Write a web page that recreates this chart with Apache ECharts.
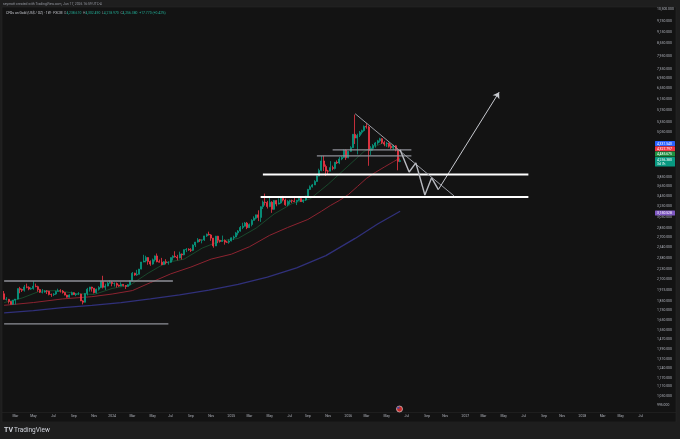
<!DOCTYPE html>
<html><head><meta charset="utf-8">
<script src="https://cdn.jsdelivr.net/npm/echarts@6/dist/echarts.min.js"></script>
<style>html,body{margin:0;padding:0;background:#1e1e1e;}#c{width:680px;height:439px;}</style>
</head><body><div id="c"></div>
<script>
// weekly bars starting Monday 2023-01-30, axis runs to mid-2028
const firstWeek = Date.UTC(2023, 0, 30);
const weekCount = 286;
const weeks = [];
for (let i = 0; i < weekCount; i++) weeks.push(new Date(firstWeek + i * 7 * 864e5).toISOString().slice(0, 10));

const openP = [1928,1865,1865,1842,1811,1856,1868,1988,1978,1969,
2008,2004,1983,1990,2017,2011,1977,1946,1948,1961,
1958,1921,1919,1925,1955,1962,1959,1943,1913,1889,
1915,1940,1919,1924,1925,1848,1833,1932,1981,2006,
1993,1940,1981,2002,2072,2004,2019,2053,2063,2049,
2049,2029,2018,2039,2024,2013,2035,2083,2179,2156,
2165,2233,2329,2344,2392,2337,2301,2360,2415,2334,
2327,2293,2333,2321,2326,2391,2411,2400,2387,2443,
2431,2507,2512,2503,2497,2577,2622,2658,2653,2656,
2721,2747,2736,2685,2563,2716,2650,2633,2648,2622,
2621,2640,2690,2702,2770,2800,2861,2882,2936,2858,
2910,2984,3023,3084,3037,3237,3327,3319,3240,3325,
3187,3357,3289,3310,3432,3368,3274,3337,3355,3350,
3337,3363,3398,3336,3371,3448,3587,3643,3685,3760,
3886,4018,4250,4113,4002,4000,4085,4065,4218,4200,
4300,4340,4530,4330,4500,4600,4980,4870,4950,5040,
5090,5220,5200,4520,4580,4660,4730,4790,4850,4740,
4700,4720,4640,4600,4650,4540,4238.61];
const highP = [1960,1890,1870,1846,1858,1868,1989,2009,1988,2032,
2048,2015,2003,2079,2048,2022,1985,1983,1971,1970,
1962,1930,1935,1963,1987,1982,1972,1948,1916,1922,
1953,1945,1933,1947,1928,1856,1935,1997,2009,2010,
1994,1988,2017,2075,2146,2047,2070,2088,2078,2062,
2062,2036,2065,2043,2031,2041,2088,2195,2185,2223,
2236,2330,2431,2418,2395,2352,2378,2422,2450,2364,
2387,2342,2368,2339,2393,2424,2483,2431,2477,2450,
2509,2531,2528,2529,2586,2625,2685,2672,2665,2722,
2758,2790,2750,2688,2721,2721,2658,2726,2664,2638,
2665,2697,2725,2786,2817,2886,2942,2955,2956,2930,
3005,3057,3086,3168,3245,3358,3500,3352,3435,3345,
3366,3365,3403,3446,3452,3398,3365,3375,3377,3439,
3370,3409,3404,3378,3453,3600,3674,3707,3791,3897,
4059,4380,4381,4160,4031,4245,4133,4225,4265,4353,
4375,4550,4550,4510,4640,4990,5600,5000,5080,5120,
5250,5330,5230,4640,4700,4760,4820,4880,4870,4790,
4760,4740,4700,4680,4670,4580,4302.49];
const lowP = [1861,1852,1819,1809,1804,1809,1864,1934,1949,1953,
1992,1969,1974,1976,2005,1952,1937,1932,1940,1925,
1910,1893,1902,1916,1952,1942,1930,1910,1885,1884,
1913,1915,1901,1913,1846,1810,1832,1909,1953,1953,
1932,1931,1965,1993,1990,1973,2016,2052,2016,2013,
2001,2010,2016,2015,1984,2009,2024,2077,2146,2146,
2164,2229,2326,2324,2291,2277,2292,2336,2325,2323,
2286,2290,2296,2293,2318,2350,2394,2353,2381,2364,
2425,2470,2490,2472,2485,2546,2614,2624,2603,2640,
2704,2728,2643,2536,2562,2605,2614,2627,2583,2611,
2597,2633,2656,2700,2730,2790,2833,2878,2832,2857,
2880,2982,3000,2971,2957,3193,3260,3202,3228,3121,
3180,3245,3280,3293,3340,3255,3247,3283,3310,3324,
3268,3348,3331,3311,3351,3436,3586,3628,3684,3758,
3884,3996,4004,3886,3931,3997,4021,4040,4175,4170,
4270,4330,4275,4320,4490,4590,4700,4420,4900,4980,
5060,5150,4130,4400,4520,4600,4680,4740,4700,4640,
4620,4600,4560,4540,4500,4020,4218.97];
const closeP = [1865,1865,1842,1811,1856,1868,1988,1978,1969,2008,
2004,1983,1990,2017,2011,1977,1946,1948,1961,1958,
1921,1919,1925,1955,1962,1959,1943,1913,1889,1915,
1940,1919,1924,1925,1848,1833,1932,1981,2006,1993,
1940,1981,2002,2072,2004,2019,2053,2063,2049,2049,
2029,2018,2039,2024,2013,2035,2083,2179,2156,2165,
2233,2329,2344,2392,2337,2301,2360,2415,2334,2327,
2293,2333,2321,2326,2391,2411,2400,2387,2443,2431,
2507,2512,2503,2497,2577,2622,2658,2653,2656,2721,
2747,2736,2685,2563,2716,2650,2633,2648,2622,2621,
2640,2690,2702,2770,2800,2861,2882,2936,2858,2910,
2984,3023,3084,3037,3237,3327,3319,3240,3325,3187,
3357,3289,3310,3432,3368,3274,3337,3355,3350,3337,
3363,3398,3336,3371,3448,3587,3643,3685,3760,3886,
4018,4250,4113,4002,4000,4085,4065,4218,4200,4300,
4340,4530,4330,4500,4600,4980,4870,4950,5040,5090,
5220,5200,4520,4580,4660,4730,4790,4850,4740,4700,
4720,4640,4600,4650,4540,4238.61,4256.38];

// indicator lines: [week index, price]
const ema50 = [[0,1800],[13,1830],[26,1870],[39,1895],[48,1925],[57,1965],[65,2060],[74,2170],[83,2260],[92,2370],[101,2440],[109,2550],[118,2730],[126,2860],[135,3000],[141,3150],[145,3260],[149,3360],[153,3480],[157,3650],[161,3830],[165,3970],[169,4100],[173,4230],[176,4327.8]];
const ma20 = [[0,1830],[8,1880],[16,1960],[24,1965],[32,1930],[40,1920],[48,1990],[56,2030],[64,2180],[72,2320],[80,2370],[88,2530],[96,2640],[104,2680],[112,2850],[120,3100],[128,3300],[136,3390],[144,3700],[152,4080],[160,4500],[168,4720],[176,4485.7]];
const sma200 = [[0,1720],[13,1745],[26,1775],[39,1800],[52,1830],[65,1870],[78,1915],[91,1970],[104,2040],[117,2130],[130,2250],[143,2420],[156,2680],[166,2920],[176,3150.5]];

// drawings: [fromWeek, toWeek, price]
const whiteLevels = [[115,233,3920],[114,233,3430]];
const grayLevels = [[0,75,2080],[0,73,1612],[146,181,4540],[139,181,4380]];
const trendLine = [[156,5630],[200,3450]];
const projection = [[176,4540],[180,3980],[183,4200],[187,3470],[190,3845],[193,3585]];
const arrowLeg = [[193,3585],[220,6400]];

const priceTicks = [995,1050,1110,1170,1240,1310,1390,1470,1550,1650,1750,1850,1975,2100,2230,2380,2540,2700,2850,3050,3250,3450,3650,3850,5050,5350,5750,6150,6550,6950,7350,7950,8550,9150,9750,10500];
const monthNames = ['Jan','Feb','Mar','Apr','May','Jun','Jul','Aug','Sep','Oct','Nov','Dec'];
const priceTags = [
  {text:'4,331.540', color:'#2962ff', y:141},
  {text:'4,327.797', color:'#f23645', y:146.2},
  {text:'4,485.675', color:'#1f9140', y:151.4},
  {text:'4,256.380\n3d 7h', color:'#089981', y:157},
  {text:'3,150.528', color:'#7e57c2', y:210.5}
];

const candleData = openP.map((o, i) => [o, closeP[i], lowP[i], highP[i]]);
const FONT = 'Roboto, "Liberation Sans", sans-serif';

function seg(data, color, width, z) {
  return {type:'line', data:data, symbol:'none', silent:true, z:z||5,
    lineStyle:{color:color, width:width}, animation:false};
}

const series = [
  {type:'candlestick', data:candleData, barWidth:1.7, large:false, z:3,
   itemStyle:{color:'#089981', color0:'#f23645', borderColor:'#089981', borderColor0:'#f23645', borderWidth:0.8}},
  seg(sma200, '#30307a', 1.3, 2),
  seg(ema50, '#8c2330', 1, 2),
  seg(ma20, '#1a5632', 0.8, 2)
];
whiteLevels.forEach(l => series.push(seg([[l[0], l[2]], [l[1], l[2]]], '#ffffff', 2, 6)));
grayLevels.forEach(l => series.push(seg([[l[0], l[2]], [l[1], l[2]]], '#8f9199', 1.3, 6)));
series.push(seg(trendLine, '#9a9ca3', 1, 6));
const proj = seg(projection, '#b8bac0', 1.4, 7);
proj.markLine = {silent:true, animation:false, symbol:['none','arrow'], symbolSize:6,
  lineStyle:{color:'#c8cad0', width:1, type:'solid'}, label:{show:false},
  data:[[{coord:[arrowLeg[0][0], arrowLeg[0][1]]}, {coord:[arrowLeg[1][0], arrowLeg[1][1]]}]]};
series.push(proj);

const graphics = [
  {type:'rect', z:-10, shape:{x:2, y:7, width:674, height:415}, style:{fill:'#131313', stroke:'#2a2a2a', lineWidth:0.5}},
  {type:'line', z:-9, shape:{x1:2, y1:412.5, x2:676, y2:412.5}, style:{stroke:'#262626', lineWidth:0.6}},
  {type:'rect', z:-10, shape:{x:0, y:422, width:680, height:17}, style:{fill:'#1e1e1e'}},
  {type:'text', z:50, x:3, y:2.3, style:{text:'seymott created with TradingView.com, Jun 17, 2026 16:59 UTC-4', fill:'#9598a1', font:'3.4px ' + FONT}},
  {type:'text', z:50, x:6, y:11.2, style:{
    text:'{t|CFDs on Gold (US$ / OZ) · 1W · FXCM}  {l|O}{v|4,238.610}  {l|H}{v|4,302.490}  {l|L}{v|4,218.970}  {l|C}{v|4,256.380}  {v|+17.770 (+0.42%)}',
    font:'3.4px ' + FONT, fill:'#d1d4dc',
    rich:{t:{fill:'#c7c9d0', fontSize:3.4, fontFamily:FONT}, l:{fill:'#9598a1', fontSize:3.4, fontFamily:FONT}, v:{fill:'#22ab94', fontSize:3.4, fontFamily:FONT}}}},
  {type:'text', z:50, x:4, y:426.5, style:{text:'TV', fill:'#d1d4dc', font:'bold 7px ' + FONT}},
  {type:'text', z:50, x:14, y:427, style:{text:'TradingView', fill:'#d1d4dc', font:'6.5px ' + FONT}},
  {type:'circle', z:50, shape:{cx:399.5, cy:409, r:3}, style:{fill:'#c62828', stroke:'#e8e8e8', lineWidth:0.6}},
  {type:'rect', z:51, shape:{x:397.3, y:406.8, width:2.2, height:1.8}, style:{fill:'#3949ab'}}
];
priceTags.forEach(t => {
  const two = t.text.indexOf('\n') > 0;
  graphics.push({type:'rect', z:60, shape:{x:655, y:t.y, width:20, height:two ? 9.5 : 5, r:0.5}, style:{fill:t.color}});
  graphics.push({type:'text', z:61, x:657, y:t.y + 0.8, style:{text:t.text, fill:'#ffffff', font:'3.4px ' + FONT, lineHeight:4.4}});
});

const chart = echarts.init(document.getElementById('c'), null, {renderer:'canvas'});
chart.setOption({
  animation:false,
  backgroundColor:'#1e1e1e',
  grid:{left:3, right:33.5, top:7, bottom:27},
  xAxis:{type:'category', data:weeks, boundaryGap:true,
    axisLine:{show:false}, axisTick:{show:false}, splitLine:{show:false},
    axisLabel:{color:'#b2b5be', fontSize:3.4, fontFamily:FONT, margin:3,
      interval:(idx, val) => { const d = new Date(val + 'T00:00:00Z'); return d.getUTCDate() <= 7 && d.getUTCMonth() % 2 === 0; },
      formatter:(val) => { const d = new Date(val + 'T00:00:00Z'); return d.getUTCMonth() === 0 ? String(d.getUTCFullYear()) : monthNames[d.getUTCMonth()]; }}},
  yAxis:{type:'log', logBase:10, position:'right', min:954, max:10624,
    axisLine:{show:false}, axisTick:{show:false}, splitLine:{show:false},
    axisLabel:{customValues:priceTicks, color:'#b2b5be', fontSize:3.4, fontFamily:FONT, margin:10.5, align:'left',
      formatter:(v) => Number(v).toLocaleString('en-US', {minimumFractionDigits:3, maximumFractionDigits:3})}},
  series:series,
  graphic:graphics
});
</script>
</body></html>
